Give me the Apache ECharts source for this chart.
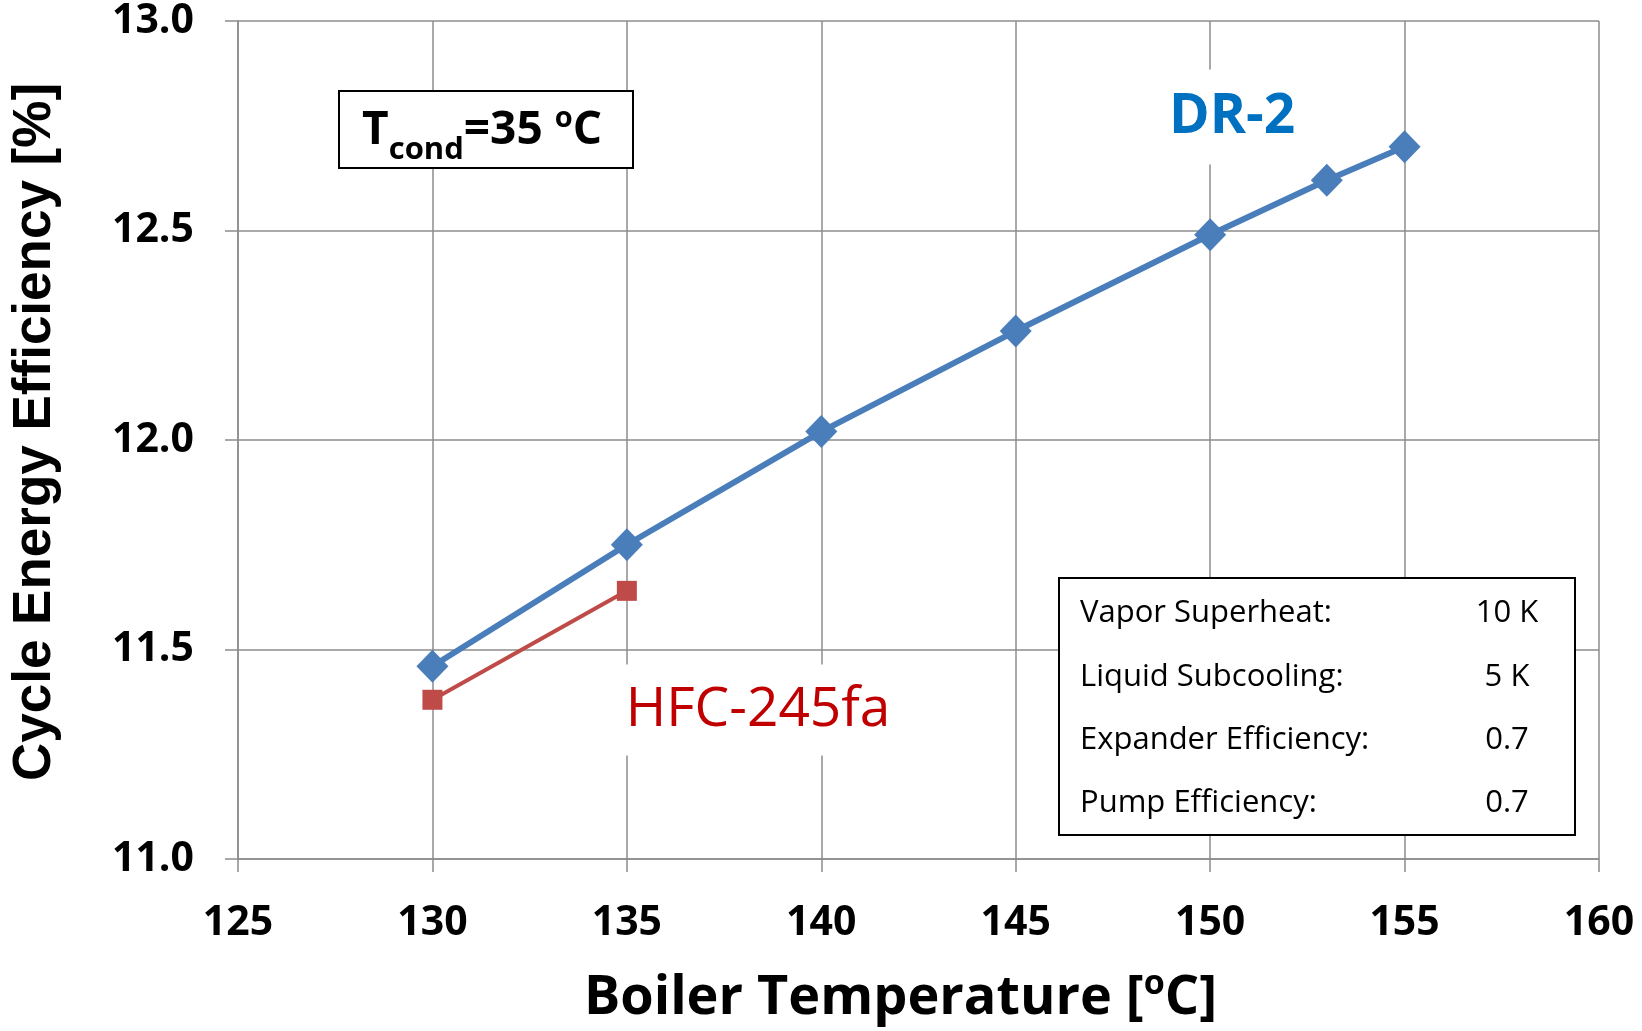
<!DOCTYPE html>
<html>
<head>
<meta charset="utf-8">
<script src="https://cdn.jsdelivr.net/npm/echarts@6/dist/echarts.min.js"></script>
<style>
html,body{margin:0;padding:0;background:#fff;}
#chart{width:1642px;height:1031px;}
</style>
</head>
<body>
<div id="chart"></div>
<script>
// ---- data ----
const dr2Temp = [130, 135, 140, 145, 150, 153, 155];
const dr2Eff = [11.46, 11.75, 12.02, 12.26, 12.49, 12.62, 12.70];
const hfcTemp = [130, 135];
const hfcEff = [11.38, 11.64];
const xRange = [125, 160, 5];
const yRange = [11.0, 13.0, 0.5];
const paramLabels = ['Vapor Superheat:', 'Liquid Subcooling:', 'Expander Efficiency:', 'Pump Efficiency:'];
const paramValues = ['10 K', '5 K', '0.7', '0.7'];

const FONT = "'Open Sans', sans-serif";
const gridColor = '#8c8c8c';

const chart = echarts.init(document.getElementById('chart'), null, {renderer: 'canvas'});

const paramGraphics = [];
const rowY = [612, 676, 739, 802];
paramLabels.forEach((t, i) => {
  paramGraphics.push({type: 'text', x: 1080, y: rowY[i] + 1, z: 101,
    style: {text: t, fontFamily: FONT, fontSize: 31, fill: '#000', align: 'left', verticalAlign: 'middle'}});
  paramGraphics.push({type: 'text', x: 1507, y: rowY[i] + 1, z: 101,
    style: {text: paramValues[i], fontFamily: FONT, fontSize: 31, fill: '#000', align: 'center', verticalAlign: 'middle'}});
});

const option = {
  animation: false,
  backgroundColor: '#fff',
  grid: {left: 238, right: 43, top: 21, bottom: 172, containLabel: false},
  xAxis: {
    type: 'value', min: xRange[0], max: xRange[1], interval: xRange[2],
    name: '{a|Boiler Temperature [}{s|o}{a|C]}',
    nameLocation: 'middle', nameGap: 108,
    nameTextStyle: {
      padding: [0, 36, 0, 0],
      rich: {
        a: {fontFamily: FONT, fontWeight: 'bold', fontSize: 54, color: '#000', lineHeight: 64, verticalAlign: 'middle'},
        s: {fontFamily: FONT, fontWeight: 'bold', fontSize: 34, color: '#000', lineHeight: 44, verticalAlign: 'top'}
      }
    },
    axisLine: {show: true, lineStyle: {color: gridColor, width: 1.5}},
    axisTick: {show: true, length: 13, lineStyle: {color: gridColor, width: 1.5}},
    splitLine: {show: true, lineStyle: {color: gridColor, width: 1.5}},
    axisLabel: {fontFamily: FONT, fontWeight: 'bold', fontSize: 41, color: '#000', margin: 44}
  },
  yAxis: {
    type: 'value', min: yRange[0], max: yRange[1], interval: yRange[2],
    name: 'Cycle Energy Efficiency [%]',
    nameLocation: 'middle', nameGap: 176, nameRotate: 90,
    nameTextStyle: {fontFamily: "'Liberation Sans', Arial, sans-serif", fontWeight: 'bold', fontSize: 53, color: '#000', padding: [0, 0, 0, 16]},
    axisLine: {show: true, lineStyle: {color: gridColor, width: 1.5}},
    axisTick: {show: true, length: 13, lineStyle: {color: gridColor, width: 1.5}},
    splitLine: {show: true, lineStyle: {color: gridColor, width: 1.5}},
    axisLabel: {fontFamily: FONT, fontWeight: 'bold', fontSize: 41, color: '#000', margin: 44,
      formatter: v => v.toFixed(1)}
  },
  series: [
    {
      name: 'DR-2', type: 'line',
      data: dr2Temp.map((t, i) => [t, dr2Eff[i]]),
      symbol: 'diamond', symbolSize: [32, 33],
      lineStyle: {color: '#4a7ebb', width: 6},
      itemStyle: {color: '#4a7ebb'},
      z: 3
    },
    {
      name: 'HFC-245fa', type: 'line',
      data: hfcTemp.map((t, i) => [t, hfcEff[i]]),
      symbol: 'rect', symbolSize: 20,
      lineStyle: {color: '#be4b48', width: 4},
      itemStyle: {color: '#be4b48'},
      z: 2
    }
  ],
  graphic: [
    {type: 'rect', shape: {x: 339, y: 91, width: 294, height: 77}, z: 100,
      style: {fill: '#fff', stroke: '#000', lineWidth: 2}},
    {type: 'text', x: 482, y: 131, z: 101,
      style: {
        text: '{a|T}{b|cond}{a|=35 }{c|o}{a|C}',
        align: 'center', verticalAlign: 'middle',
        rich: {
          a: {fontFamily: FONT, fontWeight: 'bold', fontSize: 46, fill: '#000', lineHeight: 70, verticalAlign: 'middle'},
          b: {fontFamily: FONT, fontWeight: 'bold', fontSize: 31, fill: '#000', lineHeight: 30, verticalAlign: 'bottom'},
          c: {fontFamily: FONT, fontWeight: 'bold', fontSize: 29, fill: '#000', lineHeight: 40, verticalAlign: 'middle', padding: [0, 0, 24, 0]}
        }
      }},
    {type: 'rect', shape: {x: 1059, y: 578, width: 516, height: 257}, z: 100,
      style: {fill: '#fff', stroke: '#000', lineWidth: 2}},
    ...paramGraphics,
    {type: 'text', x: 1232, y: 117, z: 101,
      style: {text: 'DR-2', fontFamily: FONT, fontWeight: 'bold', fontSize: 55, fill: '#0070c0',
        align: 'center', verticalAlign: 'middle', backgroundColor: '#fff', padding: [20, 14]}},
    {type: 'text', x: 758, y: 710, z: 101,
      style: {text: 'HFC-245fa', fontFamily: FONT, fontSize: 55, fill: '#c00000',
        align: 'center', verticalAlign: 'middle', backgroundColor: '#fff', padding: [18, 8]}}
  ]
};
chart.setOption(option);
</script>
</body>
</html>
